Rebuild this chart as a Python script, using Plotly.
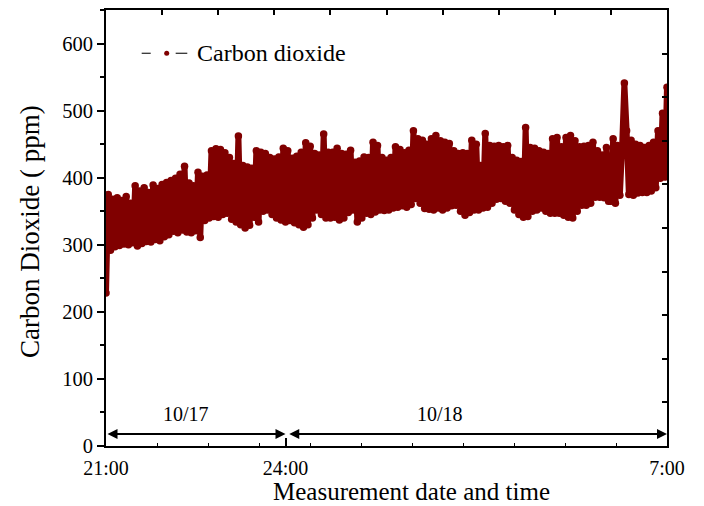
import plotly.graph_objects as go

# ---- data ----
START_H = 0.0        # 21:00 on 10/17 = hour 0
STEP_H = 0.04        # sampling step in hours
co2 = [
    # hour 0 (21:00-22:00)
    228, 375, 292, 368, 297, 370, 299, 366, 301, 372, 300, 362, 303, 388, 298, 380, 302, 385, 305, 378, 304, 389, 308, 384, 306,
    # hour 1 (22:00-23:00)
    390, 312, 393, 315, 396, 320, 399, 318, 405, 322, 417, 319, 392, 318, 388, 321, 408, 311, 402, 336, 404, 340, 440, 342, 443,
    # hour 2 (23:00-24:00)
    341, 442, 345, 437, 347, 430, 338, 421, 334, 462, 330, 418, 325, 416, 329, 414, 341, 440, 334, 438, 350, 436, 352, 430, 345,
    # hour 3 (0:00-1:00)
    428, 340, 431, 337, 444, 334, 440, 336, 429, 333, 432, 330, 438, 326, 452, 330, 447, 340, 436, 352, 434, 345, 465, 340, 438,
    # hour 4 (1:00-2:00)
    340, 438, 341, 444, 337, 436, 340, 435, 348, 441, 352, 423, 334, 425, 340, 431, 347, 430, 345, 453, 349, 448, 352, 430, 351,
    # hour 5 (2:00-3:00)
    426, 352, 430, 355, 446, 356, 442, 358, 437, 356, 441, 360, 470, 369, 458, 362, 456, 354, 450, 353, 458, 352, 463, 355, 455,
    # hour 6 (3:00-4:00)
    352, 453, 355, 451, 358, 440, 359, 436, 350, 437, 344, 436, 348, 456, 352, 450, 352, 418, 355, 466, 356, 448, 362, 447, 368,
    # hour 7 (4:00-5:00)
    448, 369, 446, 365, 448, 362, 430, 352, 426, 345, 424, 341, 475, 342, 445, 350, 444, 352, 440, 355, 438, 350, 436, 347, 458,
    # hour 8 (5:00-6:00)
    347, 460, 347, 446, 344, 460, 341, 463, 340, 455, 350, 446, 359, 447, 359, 448, 362, 453, 371, 440, 371, 434, 370, 445, 365,
    # hour 9 (6:00-7:00)
    365, 458, 362, 448, 374, 446, 541, 470, 375, 456, 374, 450, 377, 448, 378, 445, 378, 448, 380, 453, 385, 470, 399, 496, 401, 535,
]
hours = [START_H + i * STEP_H for i in range(len(co2))]

x_tick_vals = [0, 3.2, 10]
x_tick_text = ["21:00", "24:00", "7:00"]
date_labels = ["10/17", "10/18"]
date_label_x = [1.43, 5.95]
midnight = 3.2

SERIF = "Liberation Serif"
DARK_RED = "#800000"

fig = go.Figure()
fig.add_trace(go.Scatter(
    x=hours, y=co2, mode="lines+markers",
    line=dict(color=DARK_RED, width=6),
    marker=dict(color=DARK_RED, size=7.5),
    showlegend=False,
))
# empty trace to activate mirror axes
fig.add_trace(go.Scatter(x=[], y=[], xaxis="x2", yaxis="y2", showlegend=False))

fig.update_layout(
    width=704, height=506,
    margin=dict(l=106, r=37, t=10, b=60, autoexpand=False),
    paper_bgcolor="white", plot_bgcolor="white",
    font=dict(family=SERIF, color="black", size=20),
    showlegend=False,
    xaxis=dict(
        range=[0, 10], showgrid=False, zeroline=False, automargin=False,
        showline=True, linecolor="black", linewidth=2,
        tickmode="array", tickvals=x_tick_vals, ticktext=x_tick_text,
        ticks="inside", ticklen=8, tickwidth=2, tickcolor="black",
        ticklabelstandoff=3,
        minor=dict(tickmode="linear", tick0=0, dtick=10 / 11, ticks="inside",
                   ticklen=3, tickwidth=1, tickcolor="black"),
        tickfont=dict(size=20, family=SERIF),
    ),
    yaxis=dict(
        range=[0, 650], showgrid=False, zeroline=False, automargin=False,
        showline=True, linecolor="black", linewidth=2,
        tickmode="linear", tick0=0, dtick=100,
        ticks="outside", ticklen=7, tickwidth=2, tickcolor="black",
        minor=dict(tickmode="linear", tick0=0, dtick=50, ticks="outside",
                   ticklen=4, tickwidth=1.5, tickcolor="black"),
        tickfont=dict(size=20.5, family=SERIF),
    ),
    xaxis2=dict(
        overlaying="x", side="top", anchor="y", range=[0, 10], automargin=False,
        showgrid=False, zeroline=False, showline=True, linecolor="black", linewidth=2,
        tickmode="linear", tick0=0, dtick=1, ticks="inside", ticklen=5, tickwidth=1.5,
        tickcolor="black", showticklabels=False,
    ),
    yaxis2=dict(
        overlaying="y", side="right", anchor="x", range=[0, 10], automargin=False,
        showgrid=False, zeroline=False, showline=True, linecolor="black", linewidth=2,
        tickmode="linear", tick0=0, dtick=1, ticks="inside", ticklen=5, tickwidth=1.5,
        tickcolor="black", showticklabels=False,
    ),
)

# axis titles
fig.add_annotation(x=0.545, y=(446 - 491) / 436, xref="paper", yref="paper",
                   xanchor="center", yanchor="middle", showarrow=False,
                   text="Measurement date and time", font=dict(size=25, family=SERIF, color="black"))
fig.add_annotation(x=(30 - 106) / 561, y=(446 - 232) / 436, xref="paper", yref="paper",
                   xanchor="center", yanchor="middle", showarrow=False, textangle=-90,
                   text="Carbon Dioxide ( ppm)", font=dict(size=27, family=SERIF, color="black"))

# date span arrows
arrow_y = 18
for (x0, x1) in [(0, midnight), (midnight + 0.04, 10)]:
    fig.add_annotation(
        x=x1, y=arrow_y, ax=x0, ay=arrow_y, xref="x", yref="y", axref="x", ayref="y",
        text="", showarrow=True, arrowhead=2, startarrowhead=2, arrowside="end+start",
        arrowsize=1, startarrowsize=1, arrowwidth=2, arrowcolor="black",
    )
for lx, lt in zip(date_label_x, date_labels):
    fig.add_annotation(x=lx, y=47, xref="x", yref="y", text=lt, showarrow=False,
                       font=dict(size=20, family=SERIF, color="black"))

# manual legend
ly = (446 - 53.3) / 436
fig.add_shape(type="line", xref="paper", yref="paper", x0=0.0636, x1=0.0797, y0=ly, y1=ly,
              line=dict(color="#333333", width=1.3))
fig.add_shape(type="line", xref="paper", yref="paper", x0=0.1242, x1=0.1449, y0=ly, y1=ly,
              line=dict(color="#333333", width=1.3))
fig.add_shape(type="circle", xref="paper", yref="paper", xsizemode="pixel", ysizemode="pixel",
              xanchor=0.1082, yanchor=ly, x0=-2.5, x1=2.5, y0=-2.5, y1=2.5,
              fillcolor=DARK_RED, line=dict(color=DARK_RED, width=0))
fig.add_annotation(x=0.1586, y=ly, xref="paper", yref="paper", xanchor="left", yanchor="middle",
                   text="Carbon dioxide", showarrow=False,
                   font=dict(size=24, family=SERIF, color="black"))

fig.write_html("out.html")
